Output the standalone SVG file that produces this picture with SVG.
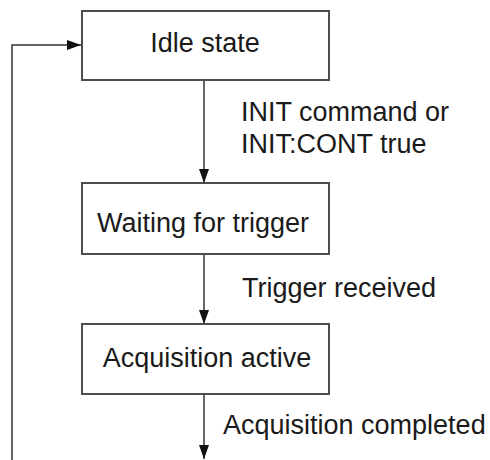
<svg xmlns="http://www.w3.org/2000/svg" width="490" height="460" viewBox="0 0 490 460">
<defs>
<style>
.box{fill:#fff;stroke:#4d4d4d;stroke-width:2}
.lbl{font-family:"Liberation Sans",Arial,sans-serif;font-size:27px;fill:#1a1a1a}
.mid{text-anchor:middle}
.conn{fill:none;stroke:#333;stroke-width:1.5}
</style>
<marker id="arr" viewBox="0 0 14 10" refX="14" refY="5" markerWidth="14" markerHeight="10" markerUnits="userSpaceOnUse" orient="auto">
<path d="M0,0 L14,5 L0,10 Z" fill="#111"/>
</marker>
</defs>
<rect width="490" height="460" fill="#fff"/>
<g id="connectors">
<line class="conn" x1="204" y1="80" x2="204" y2="183" marker-end="url(#arr)"/>
<line class="conn" x1="204" y1="254" x2="204" y2="324" marker-end="url(#arr)"/>
<line class="conn" x1="204" y1="394" x2="204" y2="459" marker-end="url(#arr)"/>
<polyline class="conn" points="12,460 12,45 81,45" marker-end="url(#arr)"/>
<text class="lbl" x="241" y="121">INIT command or</text>
<text class="lbl" x="241" y="152.5">INIT:CONT true</text>
<text class="lbl" x="242" y="296.5">Trigger received</text>
<text class="lbl" x="223" y="434">Acquisition completed</text>
</g>
<g id="idle">
<rect class="box" x="82" y="11" width="247" height="69"/>
<text class="lbl mid" x="205" y="52">Idle state</text>
</g>
<g id="waiting">
<rect class="box" x="82" y="183" width="247" height="71"/>
<text class="lbl mid" x="203" y="231.5">Waiting for trigger</text>
</g>
<g id="acquisition">
<rect class="box" x="82" y="324" width="247" height="70"/>
<text class="lbl mid" x="207" y="366.5">Acquisition active</text>
</g>
</svg>
